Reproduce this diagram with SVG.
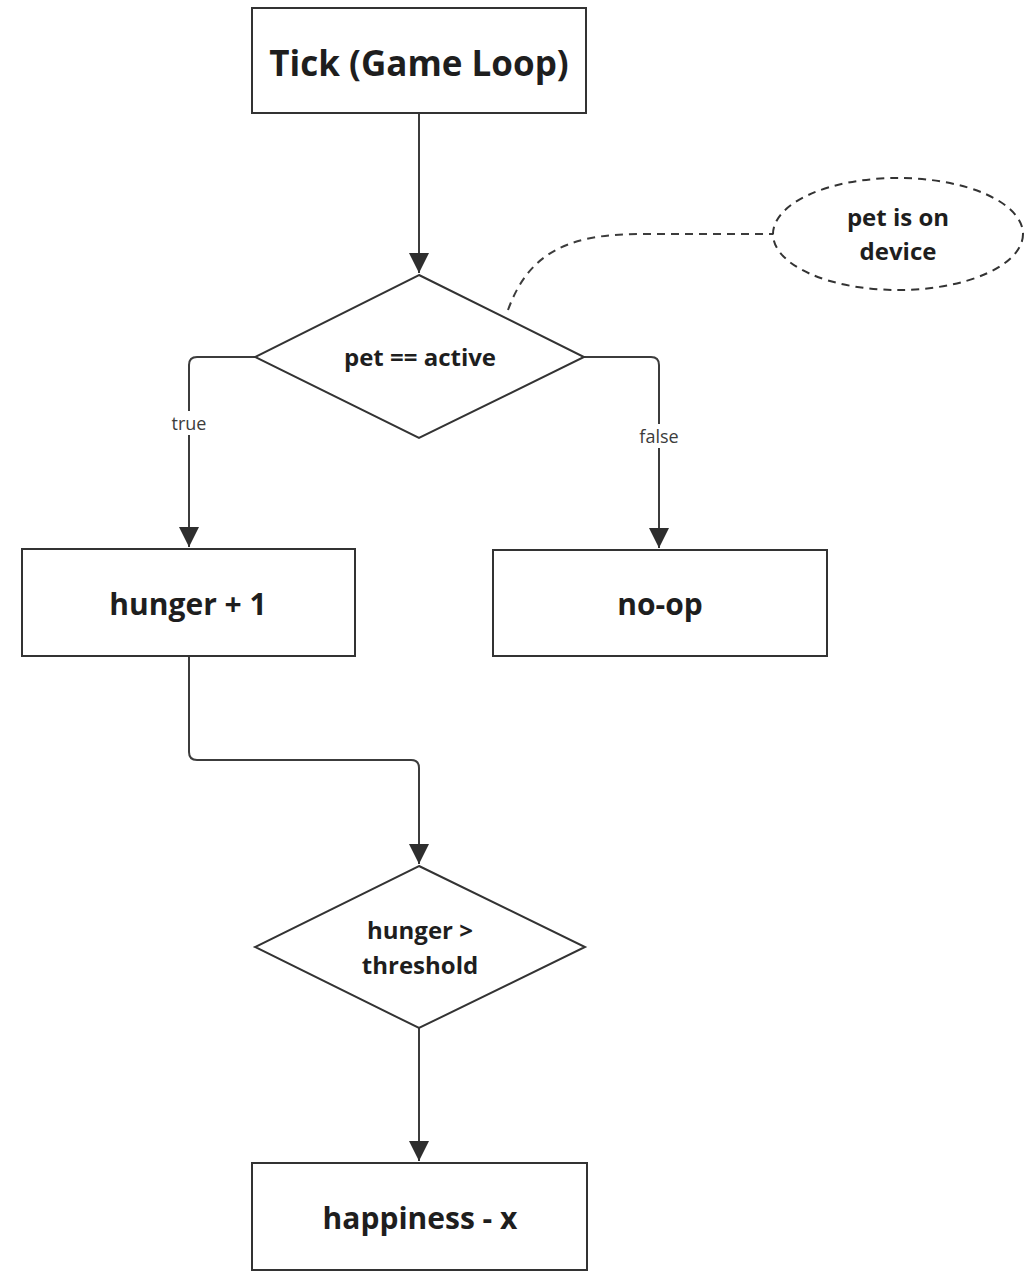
<svg xmlns="http://www.w3.org/2000/svg" width="1025" height="1272" viewBox="0 0 1025 1272">
  <style>
    .box { fill: #ffffff; stroke: #333333; stroke-width: 2; }
    .note { fill: #ffffff; stroke: #333333; stroke-width: 2; stroke-dasharray: 8 6; }
    .edge { fill: none; stroke: #3c3c3c; stroke-width: 2; }
    .dash { fill: none; stroke: #3c3c3c; stroke-width: 2; stroke-dasharray: 8 6; }
    .lbl { font-family: "Open Sans", "Liberation Sans", sans-serif; font-weight: 700; fill: #1e1e1e; text-anchor: middle; }
    .big { font-size: 35px; }
    .mid { font-size: 30px; }
    .sm { font-size: 24px; }
    .edge-lbl { font-family: "Open Sans", "Liberation Sans", sans-serif; font-size: 18px; fill: #3c3c3c; text-anchor: middle; }
  </style>
  <defs>
    <marker id="arrowhead" viewBox="0 0 20 20" refX="20" refY="10" markerWidth="20" markerHeight="20" markerUnits="userSpaceOnUse" orient="auto">
      <path d="M0 0 L20 10 L0 20 Z" fill="#2e2e2e"/>
    </marker>
  </defs>
  <rect width="1025" height="1272" fill="#ffffff"/>

  <g id="connectors">
    <path class="edge" d="M419 113 L419 273" marker-end="url(#arrowhead)"/>
    <path class="edge" d="M255 357 L197 357 Q189 357 189 365 L189 547" marker-end="url(#arrowhead)"/>
    <path class="edge" d="M584 357 L651 357 Q659 357 659 365 L659 548" marker-end="url(#arrowhead)"/>
    <path class="edge" d="M189 656 L189 752 Q189 760 197 760 L411 760 Q419 760 419 768 L419 864" marker-end="url(#arrowhead)"/>
    <path class="edge" d="M419 1028 L419 1161" marker-end="url(#arrowhead)"/>
    <path class="dash" d="M508 310 C528 255 565 234 640 234 L773 234"/>
    <rect x="166" y="411" width="46" height="24" fill="#ffffff"/>
    <text class="edge-lbl" x="189" y="430">true</text>
    <rect x="634" y="424" width="50" height="24" fill="#ffffff"/>
    <text class="edge-lbl" x="659" y="443">false</text>
  </g>

  <g id="tick">
    <rect class="box" x="252" y="8" width="334" height="105"/>
    <text class="lbl big" x="419" y="76">Tick (Game Loop)</text>
  </g>

  <g id="pet-active">
    <polygon class="box" points="419,275 584,357 419,438 255,357"/>
    <text class="lbl sm" x="420" y="366">pet == active</text>
  </g>

  <g id="pet-note">
    <ellipse class="note" cx="898" cy="234" rx="125" ry="56"/>
    <text class="lbl sm" x="898" y="226">pet is on</text>
    <text class="lbl sm" x="898" y="260">device</text>
  </g>

  <g id="hunger-inc">
    <rect class="box" x="22" y="549" width="333" height="107"/>
    <text class="lbl mid" x="188" y="615">hunger + 1</text>
  </g>

  <g id="no-op">
    <rect class="box" x="493" y="550" width="334" height="106"/>
    <text class="lbl mid" x="660" y="615">no-op</text>
  </g>

  <g id="hunger-check">
    <polygon class="box" points="419,866 585,947 419,1028 255,947"/>
    <text class="lbl sm" x="420" y="939">hunger &gt;</text>
    <text class="lbl sm" x="420" y="974">threshold</text>
  </g>

  <g id="happiness-dec">
    <rect class="box" x="252" y="1163" width="335" height="107"/>
    <text class="lbl mid" x="420" y="1229">happiness - x</text>
  </g>
</svg>
